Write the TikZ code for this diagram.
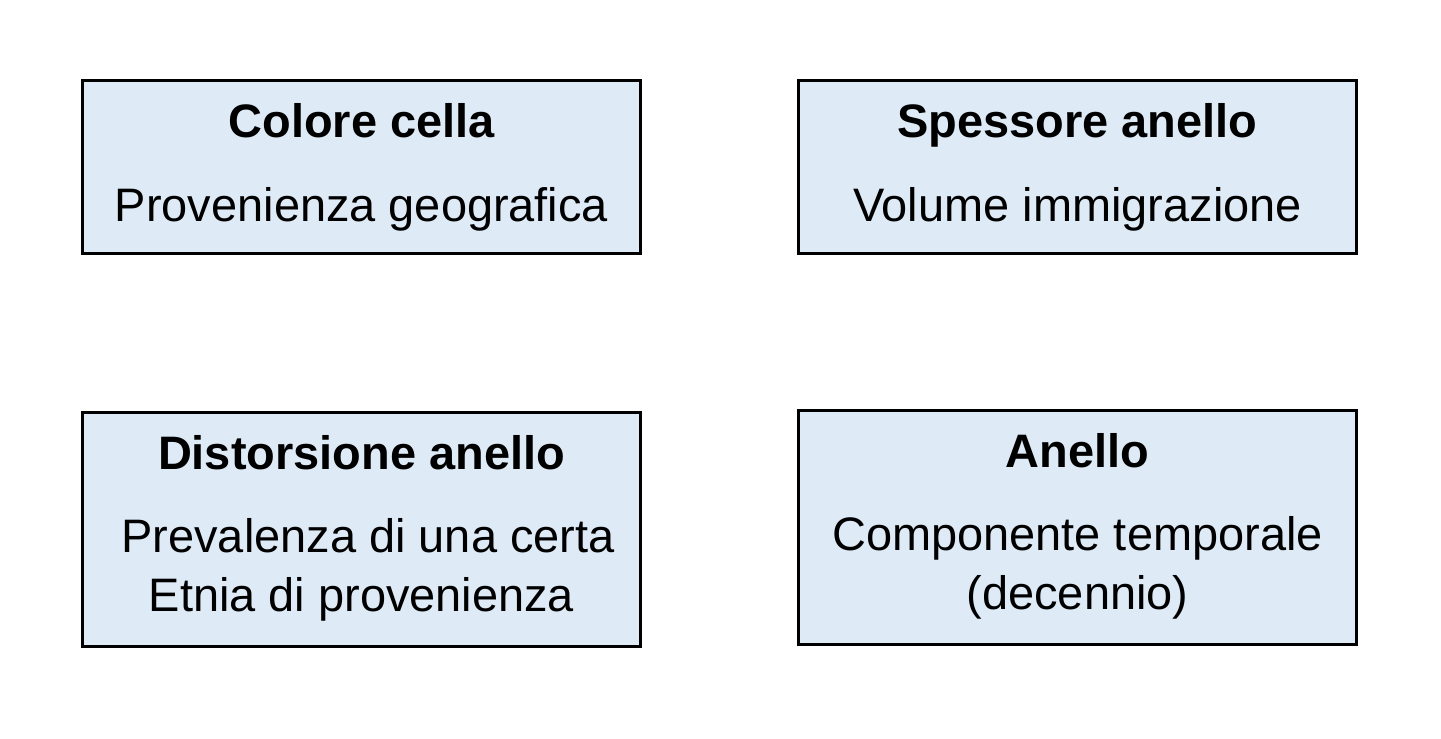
\documentclass[tikz,border=0pt]{standalone}
\usepackage{fontspec}
\setmainfont{Liberation Sans}
\usepackage{xcolor}
\usepackage{tikz}

\definecolor{boxfill}{HTML}{DEEAF6}
\tikzset{
  legendbox/.style={draw, line width=0.03cm, fill=boxfill, minimum width=5.58cm, inner sep=0pt},
  head/.style={font=\bfseries\fontsize{13.35pt}{16.5pt}\selectfont, anchor=base},
  body/.style={font=\fontsize{13.35pt}{16.5pt}\selectfont, anchor=base, align=center}
}

\begin{document}
\begin{tikzpicture}[x=0.01cm, y=-0.01cm]
\useasboundingbox (0,0) rectangle (1441,739);

\node[legendbox, minimum height=1.73cm] (colore) at (361.5,167) {};
\node[legendbox, minimum height=1.73cm] (spessore) at (1077.5,167) {};
\node[legendbox, minimum height=2.34cm] (distorsione) at (361.5,529.5) {};
\node[legendbox, minimum height=2.34cm] (anello) at (1077.5,527.5) {};

\node[head] (coloreT) at (361.5,137) {Colore cella};
\node[body] (coloreB) at (361.5,221) {Provenienza geografica};

\node[head] (spessoreT) at (1077.5,137) {Spessore anello};
\node[body] (spessoreB) at (1077.5,221) {Volume immigrazione};

% two-line texts: base is the last line
\node[head] (distorsioneT) at (361.5,469) {Distorsione anello};
\node[body] (distorsioneB) at (361.5,611) {\ Prevalenza di una certa\\Etnia di provenienza};

\node[head] (anelloT) at (1077.5,467) {Anello};
\node[body] (anelloB) at (1077.5,609) {Componente temporale\\(decennio)};
\end{tikzpicture}
\end{document}
